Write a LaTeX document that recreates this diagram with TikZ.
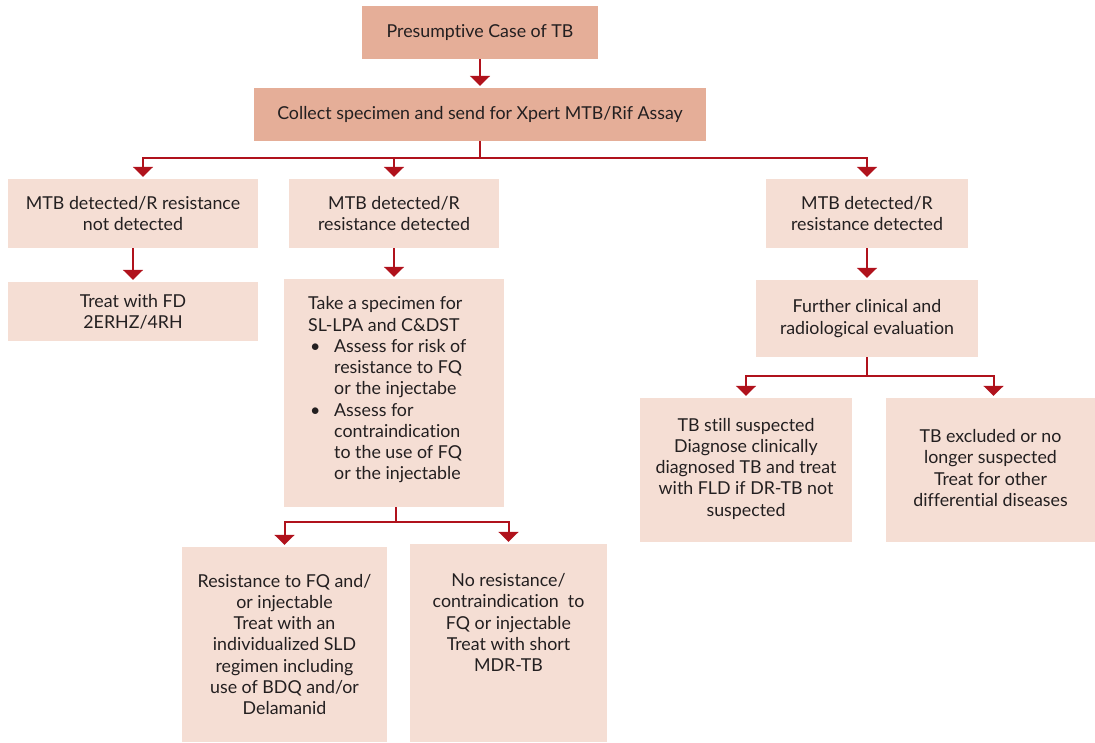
\documentclass[tikz,border=0pt]{standalone}
\usepackage{fontspec}
\setmainfont{Lato}[Ligatures=NoCommon]
\usetikzlibrary{arrows.meta,calc}
\definecolor{hdr}{HTML}{E5AE98}
\definecolor{lt}{HTML}{F5DED4}
\definecolor{ln}{HTML}{B0121C}
\definecolor{tx}{HTML}{231F20}
\tikzset{
  box/.style={rectangle, fill=lt, draw=none, inner sep=0pt},
  dbox/.style={box, fill=hdr},
  txt/.style={align=center, inner sep=0pt, text=tx},
  conn/.style={draw=ln, line width=2pt},
  arr/.style={conn, -{Triangle[width=20pt,length=10pt]}, shorten >=2pt},
}
\begin{document}
\begin{tikzpicture}[x=1pt,y=-1pt,font=\fontsize{17.8}{21.25}\selectfont]
\useasboundingbox (0,0) rectangle (1095,742);
% boxes
\node[dbox, minimum width=236pt, minimum height=53pt] (b1) at (480,32.5) {};
\node[dbox, minimum width=452pt, minimum height=53pt] (b2) at (480,114.5) {};
\node[box, minimum width=250pt, minimum height=69pt] (b3) at (133,213.5) {};
\node[box, minimum width=210pt, minimum height=69pt] (b4) at (394,213.5) {};
\node[box, minimum width=202pt, minimum height=69pt] (b5) at (867,213.5) {};
\node[box, minimum width=250pt, minimum height=59pt] (b6) at (133,311.5) {};
\node[box, minimum width=220pt, minimum height=228pt] (b7) at (394,393) {};
\node[box, minimum width=222pt, minimum height=77pt] (b8) at (867,318.5) {};
\node[box, minimum width=212pt, minimum height=144pt] (b9) at (746,470) {};
\node[box, minimum width=209pt, minimum height=144pt] (b10) at (990.5,470) {};
\node[box, minimum width=205pt, minimum height=195pt] (b11) at (284.5,644.5) {};
\node[box, minimum width=197pt, minimum height=198pt] (b12) at (508.5,643) {};
% texts
\node[txt] (t1) at (b1) {Presumptive Case of TB};
\node[txt] (t2) at (b2) {Collect specimen and send for Xpert MTB/Rif Assay};
\node[txt] (t3) at (b3) {MTB detected/R resistance\\not detected};
\node[txt] (t4) at (b4) {MTB detected/R\\resistance detected};
\node[txt] (t5) at (b5) {MTB detected/R\\resistance detected};
\node[txt] (t6) at (b6) {Treat with FD\\2ERHZ/4RH};
\node[txt, align=left, anchor=west] (t7) at (308,390) {Take a specimen for\\SL-LPA and C\&DST\\
\hspace*{2pt}\makebox[24pt][l]{•}Assess for risk of\\
\hspace*{26pt}resistance to FQ\\
\hspace*{26pt}or the injectabe\\
\hspace*{2pt}\makebox[24pt][l]{•}Assess for\\
\hspace*{26pt}contraindication\\
\hspace*{26pt}to the use of FQ\\
\hspace*{26pt}or the injectable};
\node[txt] (t8) at (b8) {Further clinical and\\radiological evaluation};
\node[txt] (t9) at ($(b9)+(0,-1.5)$) {TB still suspected\\Diagnose clinically\\diagnosed TB and treat\\with FLD if DR-TB not\\suspected};
\node[txt] (t10) at ($(b10)+(0,-2)$) {TB excluded or no\\longer suspected\\Treat for other\\differential diseases};
\node[txt] (t11) at (b11) {Resistance to FQ and/\\or injectable\\Treat with an\\individualized SLD\\regimen including\\use of BDQ and/or\\Delamanid};
\node[txt] (t12) at ($(b12)+(0,-20.5)$) {No resistance/\\contraindication\ \ to\\FQ or injectable\\Treat with short\\MDR-TB};
% connectors
\draw[arr] (b1.south) -- (b2.north);
\coordinate (j1) at ($(b2.south)+(0,17)$);
\draw[conn] (b2.south) -- (j1);
\draw[arr] (j1) -| ([xshift=10pt]b3.north);
\draw[arr] (j1) -| (b4.north);
\draw[arr] (j1) -| (b5.north);
\draw[arr] (b3.south) -- (b6.north);
\draw[arr] (b4.south) -- (b7.north);
\draw[arr] (b5.south) -- (b8.north);
\coordinate (j2) at ($(b7.south)+(2,15)$);
\draw[conn] ([xshift=2pt]b7.south) -- (j2);
\draw[arr] (j2) -| (b11.north);
\draw[arr] (j2) -| (b12.north);
\coordinate (j3) at ($(b8.south)+(0,19)$);
\draw[conn] (b8.south) -- (j3);
\draw[arr] (j3) -| (b9.north);
\draw[arr] (j3) -| ([xshift=3pt]b10.north);
\end{tikzpicture}
\end{document}
